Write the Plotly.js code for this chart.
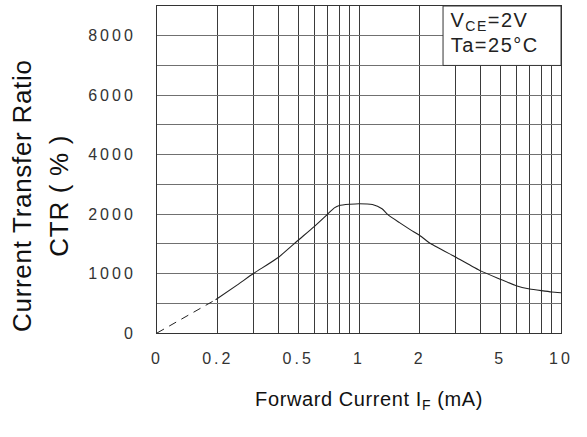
<!DOCTYPE html>
<html>
<head>
<meta charset="utf-8">
<script src="https://cdn.plot.ly/plotly-3.0.1.min.js"></script>
<style>
  html, body { margin: 0; padding: 0; background: #fff; }
  #chart { width: 587px; height: 437px; }
  .xtick text, .ytick text { letter-spacing: 3px; }
  g.annotation[data-index="0"] text, g.annotation[data-index="1"] text { letter-spacing: 1.5px; }
  g.annotation[data-index="2"] text, g.annotation[data-index="3"] text { letter-spacing: 0.7px; }
  g.annotation[data-index="4"] text { letter-spacing: 0.6px; }
</style>
</head>
<body>
<div id="chart"></div>
<script>
// ---- data ----
// Forward current IF (mA) and CTR (%)
const dashX = [0.1, 0.195];
const dashCTR = [0, 560];
const curveX = [0.195, 0.25, 0.3, 0.4, 0.5, 0.6, 0.7, 0.755, 0.8, 0.9, 1.0, 1.165, 1.3, 1.39, 1.58, 1.8, 2.0, 2.27, 3, 4, 5, 6, 7, 8, 9, 10];
const curveCTR = [560, 810, 1000, 1275, 1560, 1790, 2000, 2210, 2290, 2330, 2350, 2320, 2180, 1990, 1860, 1735, 1640, 1500, 1280, 1045, 905, 795, 740, 712, 690, 678];

// x axis grid/tick values and labels
const xTickVals = [0.1, 0.2, 0.3, 0.4, 0.5, 0.6, 0.7, 0.8, 0.9, 1, 2, 3, 4, 5, 6, 7, 8, 9, 10];
const xTickText = ['0', '0.2', '', '', '0.5', '', '', '', '', '1', '2', '', '', '5', '', '', '', '', '10'];

// y axis: labelled CTR levels are equally spaced on the chart
const yLevels = [0, 1000, 2000, 4000, 6000, 8000];
const yLabels = ['0', '1000', '2000', '4000', '6000', '8000'];

// piecewise scale: CTR value -> equally spaced label index
function ctrScale(v) {
  for (let i = 0; i < yLevels.length - 1; i++) {
    if (v <= yLevels[i + 1]) {
      return i + (v - yLevels[i]) / (yLevels[i + 1] - yLevels[i]);
    }
  }
  return yLevels.length - 1;
}

const yTickVals = [];
const yTickText = [];
for (let i = 0; i <= 11; i++) {
  yTickVals.push(i / 2);
  yTickText.push(i % 2 === 0 && i / 2 < yLabels.length ? yLabels[i / 2] : '');
}

const lineColor = '#222';

const traces = [
  {
    x: dashX, y: dashCTR.map(ctrScale), mode: 'lines', type: 'scatter',
    line: { color: lineColor, width: 1, dash: '8px,6px' }, hoverinfo: 'skip'
  },
  {
    x: curveX, y: curveCTR.map(ctrScale), mode: 'lines', type: 'scatter',
    line: { color: lineColor, width: 1.1, shape: 'spline', smoothing: 0.5 }, hoverinfo: 'skip'
  }
];

const tickFont = { family: 'Liberation Sans, Arial, sans-serif', size: 16, color: '#333' };
const fam = 'Liberation Sans, Arial, sans-serif';

const layout = {
  width: 587, height: 437,
  margin: { l: 157, r: 26, t: 6, b: 104 },
  paper_bgcolor: '#fff', plot_bgcolor: '#fff',
  showlegend: false,
  xaxis: {
    type: 'log', range: [-1, 1],
    tickmode: 'array', tickvals: xTickVals, ticktext: xTickText,
    ticks: '', ticklabelstandoff: 11,
    showgrid: true, gridcolor: '#3a3a3a', gridwidth: 1,
    showline: true, mirror: true, linecolor: '#333', linewidth: 1,
    zeroline: false, tickfont: tickFont, fixedrange: true
  },
  yaxis: {
    range: [0, 5.5],
    tickmode: 'array', tickvals: yTickVals, ticktext: yTickText,
    ticks: '', ticklabelstandoff: 17,
    showgrid: true, gridcolor: '#707070', gridwidth: 1,
    showline: true, mirror: true, linecolor: '#333', linewidth: 1,
    zeroline: false, tickfont: tickFont, fixedrange: true
  },
  shapes: [
    {
      type: 'rect', xref: 'paper', yref: 'y',
      x0: 0.708, x1: 1, y0: 4.5, y1: 5.5,
      fillcolor: '#fff', line: { color: '#333', width: 1 }, layer: 'above'
    }
  ],
  annotations: [
    {
      xref: 'paper', yref: 'paper', x: 0.733, y: 0.953, xanchor: 'left', yanchor: 'middle',
      text: 'V<sub>CE</sub>=2V', showarrow: false,
      font: { family: fam, size: 20, color: '#222' }
    },
    {
      xref: 'paper', yref: 'paper', x: 0.735, y: 0.881, xanchor: 'left', yanchor: 'middle',
      text: 'Ta=25°C', showarrow: false,
      font: { family: fam, size: 20, color: '#222' }
    },
    {
      xref: 'paper', yref: 'paper', x: -0.335, y: 0.42, xanchor: 'center', yanchor: 'middle',
      text: 'Current Transfer Ratio', textangle: -90, showarrow: false,
      font: { family: fam, size: 26, color: '#111' }
    },
    {
      xref: 'paper', yref: 'paper', x: -0.243, y: 0.42, xanchor: 'center', yanchor: 'middle',
      text: 'CTR ( % )', textangle: -90, showarrow: false,
      font: { family: fam, size: 26, color: '#111' }
    },
    {
      xref: 'paper', yref: 'paper', x: 0.524, y: -0.205, xanchor: 'center', yanchor: 'middle',
      text: 'Forward Current I<sub>F</sub> (mA)', showarrow: false,
      font: { family: fam, size: 20, color: '#111' }
    }
  ]
};

Plotly.newPlot('chart', traces, layout, { staticPlot: true, displayModeBar: false });
</script>
</body>
</html>
